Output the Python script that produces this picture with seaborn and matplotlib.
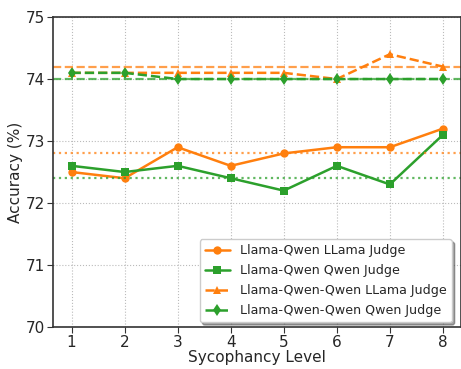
import numpy as np
import pandas as pd
import matplotlib
matplotlib.use("Agg")
import matplotlib.pyplot as plt
import seaborn as sns

levels = [1, 2, 3, 4, 5, 6, 7, 8]
lq_llama = [72.5, 72.4, 72.9, 72.6, 72.8, 72.9, 72.9, 73.2]
lq_qwen = [72.6, 72.5, 72.6, 72.4, 72.2, 72.6, 72.3, 73.1]
lqq_llama = [74.1, 74.1, 74.1, 74.1, 74.1, 74.0, 74.4, 74.2]
lqq_qwen = [74.1, 74.1, 74.0, 74.0, 74.0, 74.0, 74.0, 74.0]
baselines = {"lqq_llama": 74.2, "lqq_qwen": 74.0, "lq_llama": 72.8, "lq_qwen": 72.4}
labels = ["Llama-Qwen LLama Judge", "Llama-Qwen Qwen Judge",
          "Llama-Qwen-Qwen LLama Judge", "Llama-Qwen-Qwen Qwen Judge"]

sns.set_style("ticks")
plt.rcParams['font.family'] = ['DejaVu Sans']

orange = "#ff7f0e"
green = "#2ca02c"

fig = plt.figure(figsize=(4.61, 3.69), dpi=100)
ax = fig.add_axes([0.115, 0.1138, 0.886, 0.840])

series = [
    (lq_llama, labels[0], orange, "o", "-"),
    (lq_qwen, labels[1], green, "s", "-"),
    (lqq_llama, labels[2], orange, "^", "--"),
    (lqq_qwen, labels[3], green, "d", "--"),
]
for vals, lab, col, mk, ls in series:
    sns.lineplot(x=levels, y=vals, ax=ax, color=col, marker=mk, linestyle=ls,
                 linewidth=1.8, markersize=6, markeredgewidth=0, label=lab)

ax.axhline(baselines["lqq_llama"], color=orange, linestyle="--", linewidth=1.6, alpha=0.75)
ax.axhline(baselines["lqq_qwen"], color=green, linestyle="--", linewidth=1.6, alpha=0.75)
ax.axhline(baselines["lq_llama"], color=orange, linestyle=":", linewidth=1.6, alpha=0.75)
ax.axhline(baselines["lq_qwen"], color=green, linestyle=":", linewidth=1.6, alpha=0.75)

ax.set_xlim(0.65, 8.35)
ax.set_ylim(70, 75)
ax.set_xticks(levels)
ax.set_yticks([70, 71, 72, 73, 74, 75])
ax.tick_params(labelsize=11, direction="out", length=4, pad=2, color="#333333")
ax.set_xlabel("Sycophancy Level", fontsize=11, labelpad=0)
ax.set_ylabel("Accuracy (%)", fontsize=11, labelpad=2)
ax.grid(True, linestyle=":", color="#bbbbbb", linewidth=0.8)
for s in ax.spines.values():
    s.set_color("#333333")
    s.set_linewidth(1.2)

leg = ax.legend(loc="lower right", fontsize=9.1, frameon=True, shadow=True,
                fancybox=True, bbox_to_anchor=(0.992, -0.005), handlelength=2.0,
                labelspacing=0.55)
leg.get_frame().set_edgecolor("#cccccc")

fig.savefig("out.png", dpi=100)
